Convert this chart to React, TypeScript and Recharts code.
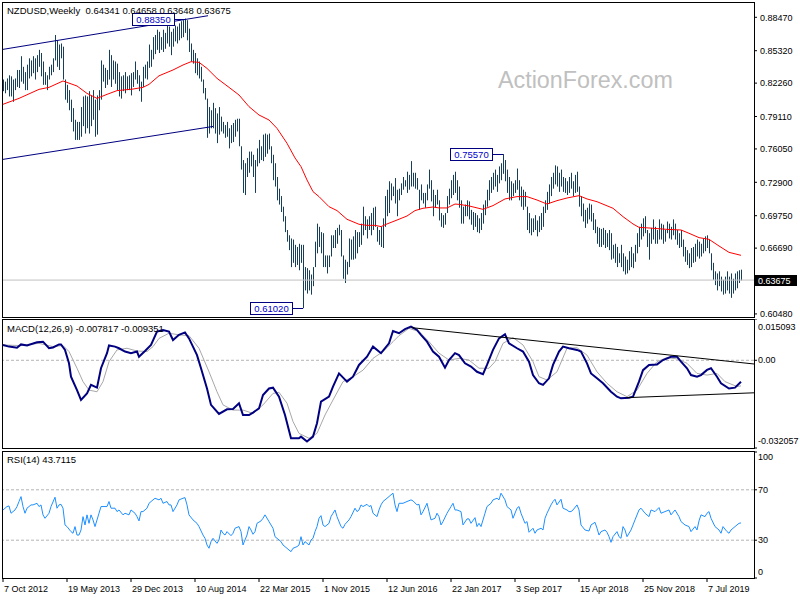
import React from 'react';
import { ComposedChart, Bar, Line, XAxis, YAxis, ReferenceLine, ReferenceDot } from 'recharts';

const FONT = '"Liberation Sans", Arial, sans-serif';
const BAR_COLOR = '#163f5c';

// weekly NZDUSD bars, week 0 = 7 Oct 2012
const highs = [
  0.826, 0.824, 0.827, 0.830, 0.829, 0.826, 0.827, 0.835, 0.835, 0.848,
  0.838, 0.833, 0.840, 0.846, 0.844, 0.848, 0.846, 0.849, 0.854, 0.851,
  0.843, 0.833, 0.830, 0.838, 0.840, 0.846, 0.868, 0.863, 0.859, 0.860,
  0.857, 0.826, 0.821, 0.816, 0.807, 0.799, 0.788, 0.786, 0.786, 0.800,
  0.810, 0.811, 0.810, 0.815, 0.811, 0.816, 0.807, 0.811, 0.816, 0.844,
  0.840, 0.837, 0.835, 0.854, 0.849, 0.844, 0.843, 0.841, 0.833, 0.829,
  0.830, 0.833, 0.829, 0.830, 0.832, 0.833, 0.843, 0.835, 0.830, 0.824,
  0.838, 0.840, 0.843, 0.859, 0.854, 0.866, 0.868,
  0.873, 0.871, 0.866, 0.873, 0.870, 0.881, 0.876, 0.871, 0.874, 0.877,
  0.876, 0.879, 0.881, 0.882, 0.8835, 0.882, 0.874, 0.860, 0.854, 0.851,
  0.846, 0.843, 0.838, 0.826, 0.818, 0.808, 0.800, 0.797, 0.804, 0.799,
  0.794, 0.800, 0.791, 0.786, 0.783, 0.786, 0.780, 0.783, 0.785, 0.788,
  0.789, 0.789, 0.763, 0.750, 0.747, 0.752, 0.758, 0.758, 0.755, 0.750,
  0.761, 0.769, 0.763, 0.774, 0.775, 0.774, 0.775, 0.763, 0.755, 0.747,
  0.734, 0.723, 0.716, 0.706, 0.697, 0.684, 0.679, 0.676, 0.675, 0.670,
  0.668, 0.671, 0.670, 0.670,
  0.649, 0.648, 0.646, 0.642, 0.649, 0.673, 0.690, 0.687, 0.682, 0.681,
  0.660, 0.660, 0.660, 0.679, 0.679, 0.684, 0.686, 0.689, 0.684, 0.660,
  0.656, 0.654, 0.676, 0.675, 0.678, 0.684, 0.682, 0.682, 0.690, 0.706,
  0.697, 0.694, 0.697, 0.700, 0.705, 0.706, 0.687, 0.684, 0.687, 0.695,
  0.716, 0.722, 0.730, 0.728, 0.725, 0.733, 0.722, 0.723, 0.728, 0.734,
  0.731, 0.739, 0.736, 0.749, 0.738, 0.738, 0.733, 0.722, 0.727, 0.719,
  0.719, 0.727, 0.741, 0.731, 0.722, 0.717, 0.722, 0.712, 0.700, 0.698,
  0.700, 0.716, 0.723, 0.731, 0.736,
  0.739, 0.731, 0.725, 0.712, 0.706, 0.708, 0.712, 0.711, 0.703, 0.701,
  0.700, 0.698, 0.695, 0.700, 0.708, 0.712, 0.722, 0.731, 0.734, 0.738,
  0.741, 0.736, 0.744, 0.747, 0.7557, 0.750, 0.741, 0.734, 0.730, 0.728,
  0.731, 0.742, 0.731, 0.725, 0.722, 0.720, 0.706, 0.700, 0.695, 0.695,
  0.698, 0.693, 0.697, 0.700, 0.706, 0.712, 0.720, 0.727, 0.734, 0.738,
  0.745, 0.744, 0.738, 0.741, 0.734, 0.733, 0.730, 0.734, 0.738, 0.730,
  0.736, 0.739, 0.725, 0.716, 0.709, 0.703, 0.705, 0.709, 0.708, 0.700,
  0.694, 0.687, 0.686,
  0.685, 0.686, 0.684, 0.681, 0.684, 0.681, 0.670, 0.671, 0.668, 0.662,
  0.670, 0.662, 0.659, 0.656, 0.664, 0.668, 0.662, 0.670, 0.681, 0.687,
  0.690, 0.695, 0.697, 0.684, 0.681, 0.686, 0.694, 0.687, 0.684, 0.694,
  0.690, 0.689, 0.684, 0.692, 0.690, 0.687, 0.694, 0.690, 0.684, 0.681,
  0.684, 0.675, 0.668, 0.665, 0.662, 0.667, 0.668, 0.671, 0.675, 0.673,
  0.671, 0.676, 0.678, 0.679, 0.675, 0.662, 0.653, 0.645, 0.643, 0.645,
  0.640, 0.637, 0.640, 0.645, 0.640, 0.643, 0.638, 0.643, 0.645, 0.646,
  0.64658,
];

const lows = [
  0.815, 0.813, 0.816, 0.810, 0.810, 0.805, 0.816, 0.819, 0.818, 0.824,
  0.822, 0.816, 0.816, 0.827, 0.829, 0.832, 0.826, 0.833, 0.838, 0.829,
  0.821, 0.821, 0.816, 0.826, 0.830, 0.833, 0.844, 0.838, 0.835, 0.846,
  0.826, 0.807, 0.804, 0.797, 0.786, 0.777, 0.769, 0.769, 0.769, 0.772,
  0.782, 0.775, 0.780, 0.775, 0.782, 0.788, 0.772, 0.774, 0.797, 0.807,
  0.824, 0.818, 0.821, 0.826, 0.819, 0.826, 0.822, 0.816, 0.810, 0.808,
  0.815, 0.813, 0.816, 0.816, 0.811, 0.819, 0.826, 0.822, 0.815, 0.805,
  0.819, 0.827, 0.826, 0.837, 0.838, 0.845, 0.850,
  0.854, 0.851, 0.854, 0.852, 0.855, 0.860, 0.857, 0.849, 0.857, 0.862,
  0.860, 0.863, 0.865, 0.866, 0.870, 0.863, 0.852, 0.843, 0.841, 0.832,
  0.830, 0.827, 0.824, 0.813, 0.807, 0.771, 0.775, 0.780, 0.780, 0.775,
  0.766, 0.774, 0.777, 0.775, 0.771, 0.772, 0.761, 0.766, 0.767, 0.772,
  0.777, 0.763, 0.741, 0.719, 0.717, 0.734, 0.738, 0.744, 0.734, 0.719,
  0.744, 0.747, 0.750, 0.749, 0.753, 0.756, 0.760, 0.747, 0.731, 0.725,
  0.712, 0.708, 0.701, 0.692, 0.682, 0.673, 0.665, 0.649, 0.653, 0.649,
  0.651, 0.646, 0.653, 0.6102,
  0.627, 0.624, 0.627, 0.623, 0.631, 0.649, 0.662, 0.668, 0.662, 0.649,
  0.649, 0.643, 0.649, 0.659, 0.667, 0.667, 0.671, 0.679, 0.659, 0.638,
  0.634, 0.642, 0.649, 0.656, 0.656, 0.657, 0.662, 0.668, 0.670, 0.679,
  0.684, 0.676, 0.684, 0.679, 0.684, 0.687, 0.673, 0.670, 0.668, 0.667,
  0.687, 0.697, 0.700, 0.712, 0.716, 0.709, 0.697, 0.712, 0.717, 0.722,
  0.725, 0.719, 0.722, 0.725, 0.725, 0.723, 0.722, 0.703, 0.712, 0.709,
  0.705, 0.712, 0.723, 0.711, 0.697, 0.705, 0.708, 0.693, 0.687, 0.686,
  0.689, 0.700, 0.708, 0.714, 0.717,
  0.719, 0.712, 0.705, 0.690, 0.690, 0.697, 0.697, 0.694, 0.689, 0.684,
  0.687, 0.682, 0.681, 0.684, 0.690, 0.698, 0.706, 0.712, 0.719, 0.722,
  0.725, 0.720, 0.728, 0.731, 0.737, 0.730, 0.719, 0.712, 0.712, 0.716,
  0.719, 0.722, 0.712, 0.706, 0.703, 0.706, 0.684, 0.681, 0.679, 0.682,
  0.684, 0.678, 0.682, 0.684, 0.687, 0.700, 0.703, 0.709, 0.716, 0.723,
  0.727, 0.725, 0.720, 0.725, 0.720, 0.719, 0.717, 0.719, 0.723, 0.716,
  0.719, 0.720, 0.706, 0.697, 0.692, 0.686, 0.690, 0.694, 0.692, 0.684,
  0.681, 0.671, 0.668,
  0.668, 0.670, 0.667, 0.668, 0.665, 0.656, 0.657, 0.653, 0.649, 0.653,
  0.649, 0.645, 0.642, 0.643, 0.646, 0.649, 0.648, 0.654, 0.662, 0.668,
  0.675, 0.678, 0.681, 0.668, 0.656, 0.671, 0.675, 0.671, 0.671, 0.675,
  0.675, 0.671, 0.673, 0.681, 0.676, 0.675, 0.679, 0.675, 0.670, 0.667,
  0.668, 0.659, 0.654, 0.651, 0.648, 0.649, 0.653, 0.654, 0.659, 0.657,
  0.659, 0.662, 0.664, 0.667, 0.662, 0.646, 0.637, 0.632, 0.627, 0.631,
  0.626, 0.623, 0.624, 0.627, 0.624, 0.620, 0.624, 0.627, 0.629, 0.634,
  0.63648,
];

const lastBar = [0.64341, 0.64658, 0.63648, 0.63675];

// red moving average, [week, value]
const maPoints = [
  [0, 0.8026], [8, 0.8082], [18, 0.8167], [23, 0.8186], [30, 0.8246], [37, 0.8199],
  [42, 0.8129], [47, 0.8082], [52, 0.8120], [57, 0.8155], [65, 0.8170], [70, 0.8186],
  [73, 0.8214], [78, 0.8295], [85, 0.8350], [90, 0.8397], [94, 0.8428], [98, 0.8422],
  [102, 0.8365], [107, 0.8271], [113, 0.8186], [118, 0.8114], [123, 0.8004], [128, 0.7925],
  [133, 0.7878], [137, 0.7799], [142, 0.7658], [146, 0.7520], [149, 0.7438], [152, 0.7312],
  [155, 0.7202], [158, 0.7155], [163, 0.7060], [167, 0.7023], [172, 0.6941], [178, 0.6894],
  [182, 0.6884], [186, 0.6884], [189, 0.6872], [192, 0.6897], [197, 0.6934], [202, 0.6972],
  [206, 0.7023], [210, 0.7045], [215, 0.7057], [218, 0.7048], [222, 0.7048], [226, 0.7085],
  [228, 0.7082], [233, 0.7067], [240, 0.7035], [245, 0.7070], [251, 0.7133], [257, 0.7155],
  [262, 0.7155], [267, 0.7123], [272, 0.7085], [277, 0.7117], [282, 0.7142], [288, 0.7164],
  [292, 0.7133], [297, 0.7107], [305, 0.7045], [310, 0.6966], [315, 0.6897], [318, 0.6865],
  [323, 0.6859], [332, 0.6846], [339, 0.6840], [343, 0.6809], [348, 0.6768], [353, 0.6752],
  [358, 0.6689], [363, 0.6629], [369, 0.6601],
];

const channelUpper = [[-0.5, 0.8543], [102.5, 0.8862]];
const channelLower = [[-0.5, 0.7505], [105, 0.7817]];
const swingLabels = [[91, 0.8835], [250, 0.7557], [150, 0.6102]];
const priceTicks = [0.8847, 0.8532, 0.8226, 0.7911, 0.7605, 0.729, 0.6975, 0.6669, 0.6048];

const macdPoints = [
  [0, 0.0056], [3, 0.0050], [7, 0.0046], [9, 0.0058], [12, 0.0054], [17, 0.0066], [20, 0.0068],
  [23, 0.0044], [25, 0.0047], [28, 0.0058], [29, 0.0058], [31, 0.0038], [33, -0.0011], [34, -0.0060],
  [37, -0.0109], [39, -0.0145], [42, -0.0121], [44, -0.0090], [47, -0.0100], [49, -0.0029],
  [52, 0.0026], [53, 0.0054], [56, 0.0050], [58, 0.0044], [61, 0.0032], [64, 0.0026], [67, 0.0032],
  [68, 0.0013], [71, 0.0034], [74, 0.0056], [77, 0.0105], [80, 0.0111], [83, 0.0105], [85, 0.0074],
  [88, 0.0093], [91, 0.0102], [93, 0.0080], [97, 0.0019], [99, -0.0029], [102, -0.0103],
  [104, -0.0163], [108, -0.0196], [112, -0.0179], [115, -0.0178], [118, -0.0157], [120, -0.0200],
  [123, -0.0200], [125, -0.0191], [128, -0.0176], [130, -0.0127], [133, -0.0103], [135, -0.0100],
  [138, -0.0133], [141, -0.0200], [144, -0.0285], [148, -0.0285], [149, -0.0279], [152, -0.0297],
  [155, -0.0279], [157, -0.0230], [159, -0.0151], [163, -0.0133], [165, -0.0096], [168, -0.0048],
  [172, -0.0078], [175, -0.0060], [178, -0.0017], [182, 0.0013], [185, 0.0050], [189, 0.0026],
  [193, 0.0062], [195, 0.0107], [198, 0.0099], [201, 0.0114], [204, 0.0123], [207, 0.0111],
  [209, 0.0093], [212, 0.0068], [215, 0.0032], [218, 0.0013], [221, -0.0027], [223, 0.0001],
  [226, 0.0026], [228, 0.0019], [231, -0.0011], [234, -0.0023], [237, -0.0042], [240, -0.0051],
  [242, -0.0017], [245, 0.0038], [248, 0.0080], [251, 0.0095], [253, 0.0062], [257, 0.0044],
  [260, 0.0032], [263, -0.0005], [265, -0.0054], [268, -0.0084], [270, -0.0090], [273, -0.0066],
  [275, -0.0017], [278, 0.0032], [280, 0.0050], [283, 0.0044], [287, 0.0038], [289, 0.0032],
  [292, -0.0011], [294, -0.0048], [297, -0.0066], [300, -0.0084], [304, -0.0115], [307, -0.0133],
  [309, -0.0139], [313, -0.0137], [315, -0.0133], [318, -0.0078], [320, -0.0036], [323, -0.0017],
  [327, -0.0015], [330, 0.0001], [334, 0.0013], [337, 0.0013], [339, -0.0005], [342, -0.0029],
  [344, -0.0054], [347, -0.0060], [349, -0.0054], [352, -0.0035], [354, -0.0029], [357, -0.0060],
  [359, -0.0084], [363, -0.0103], [366, -0.0100], [369, -0.007817],
];

const signalPoints = [
  [0, 0.0056], [8, 0.0054], [18, 0.0062], [25, 0.0050], [30, 0.0054], [33, 0.0032], [37, -0.0029],
  [40, -0.0078], [43, -0.0109], [47, -0.0115], [50, -0.0078], [53, -0.0005], [57, 0.0038],
  [62, 0.0044], [67, 0.0034], [72, 0.0032], [75, 0.0050], [78, 0.0080], [83, 0.0099], [88, 0.0093],
  [93, 0.0090], [98, 0.0044], [103, -0.0042], [107, -0.0115], [110, -0.0163], [115, -0.0182],
  [120, -0.0182], [125, -0.0194], [130, -0.0163], [135, -0.0121], [138, -0.0117], [142, -0.0157],
  [145, -0.0224], [148, -0.0267], [153, -0.0285], [157, -0.0267], [161, -0.0200], [165, -0.0145],
  [170, -0.0078], [175, -0.0060], [180, -0.0036], [185, 0.0007], [190, 0.0032], [195, 0.0068],
  [198, 0.0090], [203, 0.0117], [208, 0.0105], [213, 0.0068], [218, 0.0026], [223, 0.0001],
  [228, 0.0007], [233, 0.0001], [238, -0.0029], [243, -0.0029], [246, -0.0005], [250, 0.0062],
  [255, 0.0083], [260, 0.0056], [265, -0.0005], [268, -0.0060], [272, -0.0072], [277, -0.0042],
  [282, 0.0044], [287, 0.0046], [292, 0.0019], [297, -0.0042], [302, -0.0084], [307, -0.0115],
  [312, -0.0133], [317, -0.0109], [322, -0.0048], [327, -0.0005], [332, 0.0010], [337, 0.0005],
  [342, -0.0011], [347, -0.0048], [352, -0.0054], [357, -0.0048], [361, -0.0078], [367, -0.0096],
  [369, -0.009351],
];

const macdUpper = [[204.3, 0.01193], [375.5, -0.00135]];
const macdLower = [[311.8, -0.01366], [375.5, -0.01188]];
const macdTicks = [0.015093, 0, -0.032057];

const rsiPoints = [
  [0, 54.0], [2, 56.7], [3, 57.2], [4, 51.4], [6, 54.0], [7, 56.7], [8, 60.7], [9, 64.6], [10, 56.7],
  [11, 51.4], [12, 55.4], [14, 58.0], [15, 58.0], [17, 59.3], [18, 56.7], [19, 58.0], [20, 50.1],
  [21, 47.4], [23, 51.4], [24, 56.7], [26, 64.1], [27, 55.4], [28, 58.0], [29, 58.5], [30, 55.4],
  [31, 42.1], [32, 40.8], [34, 36.8], [35, 35.5], [36, 40.8], [37, 34.1], [38, 34.1], [39, 38.1],
  [40, 48.7], [41, 42.1], [42, 50.1], [43, 43.4], [44, 50.1], [45, 46.1], [46, 40.8], [48, 51.4],
  [49, 56.7], [51, 56.7], [52, 56.7], [53, 60.7], [54, 55.4], [56, 55.4], [57, 52.7], [58, 54.0],
  [60, 50.1], [61, 51.4], [63, 50.1], [64, 54.0], [66, 51.4], [67, 48.7], [68, 45.3], [69, 52.7],
  [70, 52.7], [72, 55.4], [73, 59.3], [75, 62.0], [76, 63.3], [78, 62.0], [79, 63.3], [80, 59.3],
  [82, 60.7], [83, 58.0], [84, 58.0], [85, 52.7], [87, 58.0], [88, 62.0], [90, 63.3], [91, 63.8],
  [92, 58.0], [93, 50.1], [95, 46.1], [97, 43.4], [98, 40.8], [100, 34.1], [101, 31.5], [102, 26.2],
  [103, 23.6], [104, 28.9], [105, 31.5], [107, 27.5], [108, 30.2], [109, 38.1], [110, 35.5],
  [111, 34.1], [112, 36.8], [114, 33.6], [115, 35.5], [116, 39.5], [118, 40.8], [119, 36.8],
  [120, 26.2], [121, 30.2], [122, 34.1], [123, 40.8], [124, 38.1], [125, 34.7], [126, 36.8],
  [127, 43.4], [129, 45.3], [130, 47.4], [131, 50.1], [133, 44.8], [134, 42.1], [135, 39.5],
  [136, 32.8], [138, 30.2], [139, 28.9], [140, 26.2], [141, 24.9], [143, 22.2], [144, 20.9],
  [145, 23.6], [147, 24.9], [148, 26.2], [149, 32.8], [150, 26.2], [151, 28.9], [153, 26.2],
  [154, 30.2], [155, 31.5], [156, 36.8], [157, 40.8], [158, 47.4], [159, 49.5], [160, 42.1],
  [161, 40.8], [163, 43.4], [164, 48.7], [165, 51.4], [166, 54.0], [167, 48.7], [169, 40.8],
  [170, 39.5], [171, 42.6], [173, 46.1], [174, 48.7], [176, 55.4], [177, 52.7], [178, 54.0],
  [179, 58.0], [180, 56.7], [182, 58.5], [183, 56.7], [184, 57.5], [185, 51.4], [187, 48.7],
  [188, 54.0], [189, 58.0], [190, 60.7], [192, 63.3], [194, 66.0], [195, 67.3], [196, 58.0],
  [197, 52.7], [198, 59.3], [200, 59.3], [202, 60.7], [204, 62.0], [205, 61.2], [207, 58.0],
  [208, 58.5], [209, 50.1], [210, 52.7], [212, 59.3], [213, 52.7], [214, 46.1], [216, 47.4],
  [217, 51.4], [218, 48.7], [219, 42.1], [220, 44.8], [222, 51.4], [224, 56.7], [225, 59.3],
  [226, 54.0], [227, 54.0], [229, 52.7], [230, 42.1], [232, 46.9], [233, 46.9], [234, 43.4],
  [236, 47.9], [237, 40.8], [238, 43.4], [239, 40.8], [241, 51.4], [242, 56.7], [244, 59.3],
  [245, 62.0], [247, 63.3], [248, 62.0], [249, 67.3], [251, 62.0], [252, 56.7], [254, 54.0],
  [255, 47.4], [257, 55.4], [258, 56.7], [259, 51.4], [261, 43.4], [262, 44.8], [263, 36.3],
  [265, 39.5], [266, 35.5], [267, 38.1], [269, 39.5], [270, 38.1], [271, 47.4], [272, 51.4],
  [274, 58.0], [275, 60.7], [276, 62.5], [277, 58.0], [279, 62.5], [280, 55.4], [282, 54.0],
  [283, 52.7], [284, 52.7], [285, 54.0], [287, 58.0], [288, 54.0], [289, 42.1], [291, 38.1],
  [293, 37.3], [294, 42.1], [296, 44.2], [297, 39.5], [298, 34.1], [299, 36.8], [301, 38.1],
  [302, 36.3], [303, 32.8], [304, 28.3], [305, 32.8], [307, 36.8], [308, 32.8], [309, 31.5],
  [310, 40.8], [311, 38.1], [312, 32.8], [314, 38.1], [315, 42.1], [316, 46.1], [318, 54.0],
  [319, 55.4], [321, 51.4], [323, 48.7], [324, 54.0], [326, 52.7], [328, 55.9], [329, 51.4],
  [331, 52.7], [333, 54.0], [334, 50.1], [336, 54.0], [338, 48.7], [339, 44.8], [341, 42.1],
  [343, 40.8], [344, 36.8], [346, 40.8], [347, 38.1], [348, 45.3], [349, 50.1], [351, 48.7],
  [352, 51.4], [353, 52.7], [354, 47.4], [356, 40.8], [358, 38.1], [359, 35.5], [360, 40.8],
  [362, 36.8], [363, 35.5], [364, 38.1], [366, 40.8], [368, 43.4], [369, 43.7115],
];
const rsiTicks = [100, 70, 30, 0];

const dateTicks = [0, 32, 64, 96, 128, 160, 192, 224, 256, 288, 320, 352];
const dateLabels = [
  '7 Oct 2012', '19 May 2013', '29 Dec 2013', '10 Aug 2014', '22 Mar 2015', '1 Nov 2015',
  '12 Jun 2016', '22 Jan 2017', '3 Sep 2017', '15 Apr 2018', '25 Nov 2018', '7 Jul 2019',
];

const X_DOMAIN: [number, number] = [-0.5, 375.5];
const toRows = (pts: number[][]) => pts.map(([i, v]) => ({ i, v }));

const bars = highs.map((h, i) => ({ i, hl: [lows[i], h] }));

const HLBar = (props: any) => {
  const { x, y, width, height } = props;
  if (x == null || y == null) return null;
  const cx = Math.round(x + width / 2);
  const top = Math.min(y, y + height);
  return <rect x={cx} y={top} width={1} height={Math.max(1, Math.abs(height))} fill={BAR_COLOR} />;
};

const SwingBox = ({ cx, cy, text }: any) => {
  const bx = Math.round(cx);
  const yy = Math.round(cy) + 0.5;
  return (
    <g>
      <line x1={bx - 10} y1={yy} x2={bx} y2={yy} stroke="#000080" />
      <rect x={bx - 52.5} y={yy - 6} width={42} height={12} fill="#fff" stroke="#000080" />
      <text x={bx - 31.5} y={yy + 3.5} textAnchor="middle" fontSize={9.5} fontFamily={FONT} fill="#0000cc">
        {text}
      </text>
    </g>
  );
};

const CloseTag = ({ cy, text }: any) => (
  <g>
    <rect x={755} y={Math.round(cy) - 5} width={42} height={11} fill="#000" />
    <text x={758} y={Math.round(cy) + 3.5} fontSize={9} fontFamily={FONT} fill="#fff">{text}</text>
  </g>
);

const MacdTick = ({ x, y, payload }: any) => {
  const v = payload.value;
  const shift = v > 0 ? 8 : v < 0 ? -7 : 0;
  return (
    <text x={x} y={y + shift} dy="0.355em" fontSize={9} fontFamily={FONT} fill="#000">
      {v === 0 ? '0.00' : v.toFixed(6)}
    </text>
  );
};

const RsiTick = ({ x, y, payload }: any) => {
  const v = payload.value;
  const shift = v === 100 ? 5 : v === 0 ? -6 : 0;
  return (
    <text x={x} y={y + shift} dy="0.355em" fontSize={9} fontFamily={FONT} fill="#000">{v}</text>
  );
};

const DateTick = ({ x, y, payload }: any) => {
  const k = dateTicks.indexOf(payload.value);
  return (
    <text x={x + 1} y={y} dy={8} fontSize={9} fontFamily={FONT} fill="#000">{dateLabels[k]}</text>
  );
};

const lineProps = { dot: false, activeDot: false, isAnimationActive: false, type: 'linear' as const };

export default function App() {
  const headerValues = lastBar.map((v) => v.toFixed(5)).join(' ');
  return (
    <div style={{ position: 'absolute', left: 0, top: 0, width: 800, height: 600, background: '#fff', overflow: 'hidden' }}>
      <div style={{ position: 'absolute', left: 0, top: 0 }}>
        <ComposedChart width={800} height={320} data={bars} margin={{ top: 3, right: 0, bottom: 3, left: 2 }}>
          <XAxis dataKey="i" type="number" domain={X_DOMAIN} hide allowDataOverflow />
          <YAxis
            orientation="right" width={46} domain={[0.6019, 0.8982]} allowDataOverflow
            ticks={priceTicks} interval={0} tickFormatter={(v: number) => v.toFixed(5)}
            tick={{ fontSize: 9, fill: '#000', fontFamily: FONT }} tickSize={3} tickMargin={3}
            axisLine={false} tickLine={{ stroke: '#000' }}
          />
          <ReferenceLine y={lastBar[3]} stroke="#c0c0c0" />
          <Bar dataKey="hl" barSize={1} shape={HLBar} isAnimationActive={false} />
          <Line data={toRows(maPoints)} dataKey="v" stroke="#ff0000" strokeWidth={1} {...lineProps} />
          <Line data={toRows(channelUpper)} dataKey="v" stroke="#000080" strokeWidth={1} {...lineProps} />
          <Line data={toRows(channelLower)} dataKey="v" stroke="#000080" strokeWidth={1} {...lineProps} />
          {swingLabels.map(([i, p]) => (
            <ReferenceDot key={i} x={i} y={p} r={0} shape={(sp: any) => <SwingBox {...sp} text={p.toFixed(5)} />} />
          ))}
          <ReferenceDot x={375.5} y={lastBar[3]} r={0} shape={(sp: any) => <CloseTag {...sp} text={lastBar[3].toFixed(5)} />} />
        </ComposedChart>
      </div>

      <div style={{ position: 'absolute', left: 0, top: 319 }}>
        <ComposedChart width={800} height={130} data={toRows(macdPoints)} margin={{ top: 0, right: 0, bottom: 1, left: 2 }}>
          <XAxis dataKey="i" type="number" domain={X_DOMAIN} hide allowDataOverflow />
          <YAxis
            orientation="right" width={46} domain={[-0.032057, 0.015093]} allowDataOverflow
            ticks={macdTicks} interval={0} tick={<MacdTick />} tickSize={3} tickMargin={1}
            axisLine={false} tickLine={{ stroke: '#000' }}
          />
          <ReferenceLine y={0} stroke="#b4b4b4" strokeDasharray="3 2" />
          <Line data={toRows(signalPoints)} dataKey="v" stroke="#a8a8a8" strokeWidth={1} {...lineProps} />
          <Line data={toRows(macdPoints)} dataKey="v" stroke="#000080" strokeWidth={2} {...lineProps} />
          <Line data={toRows(macdUpper)} dataKey="v" stroke="#000" strokeWidth={1} {...lineProps} />
          <Line data={toRows(macdLower)} dataKey="v" stroke="#000" strokeWidth={1} {...lineProps} />
        </ComposedChart>
      </div>

      <div style={{ position: 'absolute', left: 0, top: 451 }}>
        <ComposedChart width={800} height={149} data={toRows(rsiPoints)} margin={{ top: 1, right: 0, bottom: 0, left: 2 }}>
          <XAxis
            dataKey="i" type="number" domain={X_DOMAIN} allowDataOverflow ticks={dateTicks} interval={0}
            tick={<DateTick />} tickSize={4} tickMargin={2} height={22}
            axisLine={false} tickLine={{ stroke: '#000' }}
          />
          <YAxis
            orientation="right" width={46} domain={[0, 100]} allowDataOverflow
            ticks={rsiTicks} interval={0} tick={<RsiTick />} tickSize={3} tickMargin={1}
            axisLine={false} tickLine={{ stroke: '#000' }}
          />
          <ReferenceLine y={70} stroke="#b4b4b4" strokeDasharray="3 2" />
          <ReferenceLine y={30} stroke="#b4b4b4" strokeDasharray="3 2" />
          <Line data={toRows(rsiPoints)} dataKey="v" stroke="#1e90ff" strokeWidth={1} {...lineProps} />
        </ComposedChart>
      </div>

      <svg width={800} height={600} style={{ position: 'absolute', left: 0, top: 0, pointerEvents: 'none' }}>
        <rect x={2.5} y={2.5} width={752} height={315} fill="none" stroke="#000" />
        <rect x={2.5} y={319.5} width={752} height={129} fill="none" stroke="#000" />
        <rect x={2.5} y={451.5} width={752} height={127} fill="none" stroke="#000" />
        <text x={498} y={88} fontSize={23.3} fontFamily={FONT} fill="#c0c0c0">ActionForex.com</text>
        <text x={7} y={14} fontSize={9.5} fontFamily={FONT} fill="#000" style={{ whiteSpace: 'pre' }}>
          {`NZDUSD,Weekly  ${headerValues}`}
        </text>
        <text x={7} y={332} fontSize={9.5} fontFamily={FONT} fill="#000">
          MACD(12,26,9) -0.007817 -0.009351
        </text>
        <text x={7} y={463} fontSize={9.5} fontFamily={FONT} fill="#000">RSI(14) 43.7115</text>
      </svg>
    </div>
  );
}
